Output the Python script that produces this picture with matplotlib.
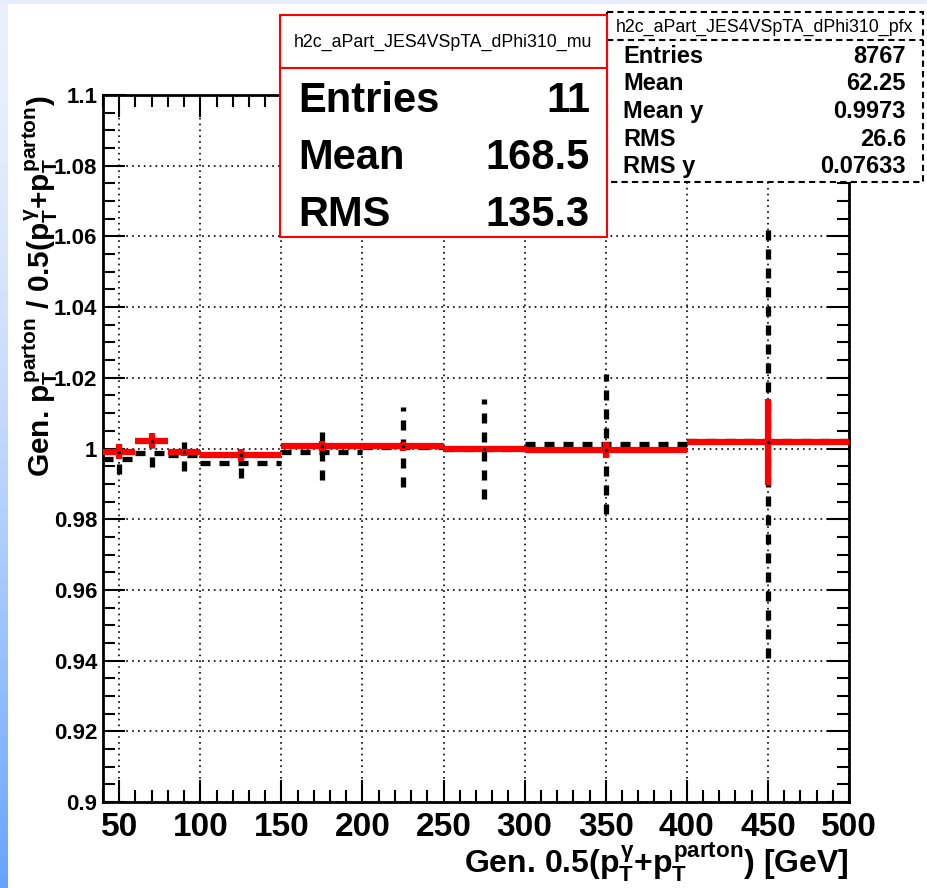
import numpy as np
import matplotlib
matplotlib.use('Agg')
import matplotlib.pyplot as plt
from matplotlib.patches import Rectangle
from matplotlib.lines import Line2D
from matplotlib.ticker import MultipleLocator, FuncFormatter
from matplotlib.transforms import Affine2D

W, H = 928, 888

# bins (GeV)
bin_lo = [40, 60, 80, 100, 150, 200, 250, 300, 400]
bin_hi = [60, 80, 100, 150, 200, 250, 300, 400, 500]

# h2c_..._mu (red)
mu_val = [0.9991, 1.0022, 0.9989, 0.9982, 1.0006, 1.0006, 1.0000, 0.9996, 1.0018]
mu_err = [0.0021, 0.0021, 0.0010, 0.0018, 0.0014, 0.0012, 0.0006, 0.0022, 0.0122]

# h2c_..._pfx (black dashed)
pfx_val = [0.9969, 0.9986, 0.9982, 0.9960, 0.9991, 1.0005, 0.9998, 1.0012, 1.0022]
pfx_err = [0.0040, 0.0037, 0.0045, 0.0043, 0.0080, 0.0113, 0.0141, 0.0198, 0.0616]

mu_stats = [("Entries", "11"), ("Mean", "168.5"), ("RMS", "135.3")]
pfx_stats = [("Entries", "8767"), ("Mean", "62.25"), ("Mean y", "0.9973"),
             ("RMS", "26.6"), ("RMS y", "0.07633")]
mu_title = "h2c_aPart_JES4VSpTA_dPhi310_mu"
pfx_title = "h2c_aPart_JES4VSpTA_dPhi310_pfx"

plt.rcParams['font.family'] = ['Liberation Sans', 'DejaVu Sans']
plt.rcParams['font.weight'] = 'bold'
plt.rcParams['axes.labelweight'] = 'bold'
plt.rcParams['mathtext.fontset'] = 'custom'
plt.rcParams['mathtext.rm'] = 'Liberation Sans:bold'
plt.rcParams['mathtext.it'] = 'Liberation Sans:bold'
plt.rcParams['mathtext.bf'] = 'Liberation Sans:bold'
plt.rcParams['mathtext.sf'] = 'Liberation Sans:bold'

fig = plt.figure(figsize=(W / 100, H / 100), dpi=100)
fig.patch.set_facecolor('white')

# pixel transform, origin top-left
pix = Affine2D().scale(1 / W, -1 / H).translate(0, 1) + fig.transFigure

# slide background strips
bg = fig.add_axes([0, 0, 1, 1], zorder=-10)
bg.set_xlim(0, W)
bg.set_ylim(H, 0)
bg.axis('off')
t = np.linspace(0, 1, 256)[:, None] ** 1.6
top_c = np.array([0.92, 0.94, 0.99])
bot_c = np.array([0.40, 0.64, 1.00])
grad = top_c * (1 - t) + bot_c * t
bg.imshow(grad[:, None, :].repeat(2, axis=1), extent=[0, 8, H, 0], aspect='auto')
bg.add_patch(Rectangle((0, 0), W, 4, color='#e6ecfb', lw=0))

ax = fig.add_axes([103 / W, 1 - 802 / H, 746 / W, 707 / H])
ax.set_xlim(40, 500)
ax.set_ylim(0.9, 1.1)

centers = [(lo + hi) / 2 for lo, hi in zip(bin_lo, bin_hi)]
pv = np.array(pfx_val)
pe = np.array(pfx_err)
mv = np.array(mu_val)
me = np.array(mu_err)

dash = (0, (1.9, 1.7))
ax.hlines(pv, bin_lo, bin_hi, colors='black', linestyles=dash, lw=3.8, zorder=3)
ax.vlines(centers, pv - pe, pv + pe, colors='black', linestyles=dash, lw=3.8, zorder=3)
ax.hlines(mv, bin_lo, bin_hi, colors='red', lw=4.5, zorder=4)
ax.vlines(centers, mv - me, mv + me, colors='red', lw=4.5, zorder=4)
ax.plot(centers, mv, 'o', ms=1.6, color='black', zorder=5)

ax.xaxis.set_major_locator(MultipleLocator(50))
ax.xaxis.set_minor_locator(MultipleLocator(10))
ax.yaxis.set_major_locator(MultipleLocator(0.02))
ax.yaxis.set_minor_locator(MultipleLocator(0.005))
ax.yaxis.set_major_formatter(FuncFormatter(lambda v, p: "%g" % round(v, 4)))
ax.tick_params(which='both', direction='in', top=True, right=True, width=1.5)
ax.tick_params(which='major', length=16)
ax.tick_params(which='minor', length=8.5)
ax.tick_params(axis='x', labelsize=24, pad=7)
ax.tick_params(axis='y', labelsize=16, pad=4)
for s in ax.spines.values():
    s.set_linewidth(2)
ax.grid(True, which='major', color='black', ls=(0, (1, 2.5)), lw=1.2)

ax.set_xlabel(r'Gen. 0.5($p_{T}^{\gamma}$+$p_{T}^{parton}$) [GeV]', fontsize=23,
              fontweight='bold', loc='right')
ax.xaxis.set_label_coords(1.0, -0.054)
ax.set_ylabel(r'Gen. $p_{T}^{parton}$ / 0.5($p_{T}^{\gamma}$+$p_{T}^{parton}$)', fontsize=21.5,
              fontweight='bold', loc='top')
ax.yaxis.set_label_coords(-0.058, 1.0)

# pfx stat box (black dashed)
fig.add_artist(Rectangle((607, 12), 316, 170, transform=pix, facecolor='white',
                         edgecolor='black', ls=(0, (3, 2)), lw=1.5, zorder=5))
fig.add_artist(Line2D([607, 923], [40, 40], transform=pix, color='black',
                      ls=(0, (3, 2)), lw=1.5, zorder=6))
fig.text(765, 32, pfx_title, transform=pix, fontsize=12.8, fontweight='normal',
         ha='center', va='baseline', zorder=7)
for i, (k, v) in enumerate(pfx_stats):
    yb = 63 + i * 27.5
    fig.text(623, yb, k, transform=pix, fontsize=17, ha='left', va='baseline', zorder=7)
    fig.text(906, yb, v, transform=pix, fontsize=17, ha='right', va='baseline', zorder=7)

# mu stat box (red)
fig.add_artist(Rectangle((280, 15), 327, 222, transform=pix, facecolor='white',
                         edgecolor='red', lw=1.5, zorder=8))
fig.add_artist(Line2D([280, 607], [68, 68], transform=pix, color='red', lw=1.5, zorder=9))
fig.text(443, 47, mu_title, transform=pix, fontsize=12.8, fontweight='normal',
         ha='center', va='baseline', zorder=10)
for i, (k, v) in enumerate(mu_stats):
    yb = 112 + i * 57
    fig.text(298, yb, k, transform=pix, fontsize=30, ha='left', va='baseline', zorder=10)
    fig.text(590, yb, v, transform=pix, fontsize=30, ha='right', va='baseline', zorder=10)

fig.savefig('out.png', dpi=100)
